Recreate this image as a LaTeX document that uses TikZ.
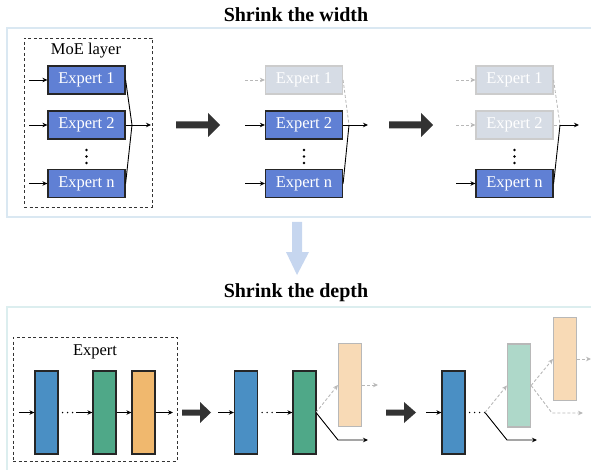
\documentclass[tikz,border=0pt]{standalone}
\usepackage{fontspec}
\setmainfont{Liberation Serif}
\usetikzlibrary{arrows.meta}
\definecolor{expblue}{HTML}{6080D4}
\definecolor{expgray}{HTML}{D6DCE5}
\definecolor{grayline}{HTML}{B8B8B8}
\definecolor{blk}{HTML}{4A8FC4}
\definecolor{grn}{HTML}{4FA888}
\definecolor{org}{HTML}{F0B86E}
\definecolor{lgrn}{HTML}{AED8C9}
\definecolor{lorg}{HTML}{F8DAB6}
\definecolor{panelA}{HTML}{DAE8F2}
\definecolor{panelB}{HTML}{DCEEEF}
\definecolor{bigarr}{HTML}{333333}
\definecolor{downarr}{HTML}{C6D6EF}
\begin{document}
\begin{tikzpicture}[x=1pt,y=-1pt,
  txt/.style={font=\fontsize{16.5}{19}\selectfont},
  title/.style={font=\fontsize{20}{24}\selectfont\bfseries},
  expon/.style={draw=black!85,line width=1.2pt,fill=expblue,text=white,minimum width=77pt,minimum height=28pt,inner sep=0pt,font=\fontsize{16.5}{19}\selectfont},
  expoff/.style={draw=black!20,line width=1.2pt,fill=expgray,text=white,minimum width=77pt,minimum height=28pt,inner sep=0pt,font=\fontsize{16.5}{19}\selectfont},
  layer/.style={draw=black!85,line width=1.2pt,minimum width=23pt,minimum height=83pt,inner sep=0pt},
  layeroff/.style={draw=grayline,line width=1.2pt,minimum width=23pt,minimum height=83pt,inner sep=0pt},
  arr/.style={line width=0.9pt,-{Stealth[length=5pt,width=4.5pt]}},
  garr/.style={line width=0.9pt,draw=grayline,dashed,dash pattern=on 3pt off 2pt,-{Stealth[length=5pt,width=4.5pt]}},
  gline/.style={line width=0.8pt,draw=grayline,dashed,dash pattern=on 3pt off 2pt},
  sline/.style={line width=0.9pt},
  dotline/.style={line width=1.7pt,dash pattern=on 0pt off 5pt,line cap=round},
  dashbox/.style={draw=black!80,line width=0.9pt,dash pattern=on 3pt off 2.5pt},
  vdot/.style={circle,fill=black,inner sep=0pt,minimum size=2.6pt},
]
\useasboundingbox (0,0) rectangle (591,470);
\clip (0,0) rectangle (591,470);

% panels
\draw[panelA,line width=2pt] (7,28) rectangle (620,217);
\draw[panelB,line width=2pt] (7,307) rectangle (620,500);

% titles
\node[title] (t1) at (296,15) {Shrink the width};
\node[title] (t2) at (296,293) {Shrink the depth};

% down arrow
\fill[downarr] (292,222) -- (302,222) -- (302,252) -- (309,252) -- (297,275) -- (286,252) -- (292,252) -- cycle;

% ===== top: stage 1
\node[dashbox,minimum width=128pt,minimum height=169pt] (moe) at (88,122.5) {};
\node[txt] (moel) at (86,51) {MoE layer};
\node[expon] (a1) at (86.5,80) {Expert 1};
\node[expon] (a2) at (86.5,125) {Expert 2};
\node[expon] (an) at (86.5,183.5) {Expert n};
\foreach \yy [count=\k] in {150,156.5,163} \node[vdot] (ad\k) at (86.5,\yy) {};
\coordinate (ai1) at (29,80);
\coordinate (ai2) at (29,125);
\coordinate (ain) at (29,183.5);
\draw[arr] (ai1) -- (a1);
\draw[arr] (ai2) -- (a2);
\draw[arr] (ain) -- (an);
\coordinate (aj) at (132,125);
\coordinate (ao) at (151,125);
\draw[sline] (a1.east) -- (aj) -- (an.east);
\draw[arr] (a2.east) -- (ao);

% big arrow 1
\fill[bigarr] (176,121.5) -- (208,121.5) -- (208,113) -- (220,125) -- (208,137) -- (208,128.5) -- (176,128.5) -- cycle;

% ===== top: stage 2
\node[expoff] (b1) at (304,80) {Expert 1};
\node[expon] (b2) at (304,125) {Expert 2};
\node[expon] (bn) at (304,183.5) {Expert n};
\foreach \yy [count=\k] in {150,156.5,163} \node[vdot] (bd\k) at (304,\yy) {};
\coordinate (bi1) at (245,80);
\coordinate (bi2) at (245,125);
\coordinate (bin) at (245,183.5);
\draw[garr] (bi1) -- (b1);
\draw[arr] (bi2) -- (b2);
\draw[arr] (bin) -- (bn);
\coordinate (bj) at (349,125);
\coordinate (bo) at (368,125);
\draw[gline] (b1.east) -- (bj);
\draw[sline] (bn.east) -- (bj);
\draw[arr] (b2.east) -- (bo);

% big arrow 2
\fill[bigarr] (389,121.5) -- (421,121.5) -- (421,113) -- (433,125) -- (421,137) -- (421,128.5) -- (389,128.5) -- cycle;

% ===== top: stage 3
\node[expoff] (c1) at (514.5,80) {Expert 1};
\node[expoff] (c2) at (514.5,125) {Expert 2};
\node[expon] (cn) at (514.5,183.5) {Expert n};
\foreach \yy [count=\k] in {150,156.5,163} \node[vdot] (cd\k) at (514.5,\yy) {};
\coordinate (ci1) at (456,80);
\coordinate (ci2) at (456,125);
\coordinate (cin) at (456,183.5);
\draw[garr] (ci1) -- (c1);
\draw[garr] (ci2) -- (c2);
\draw[arr] (cin) -- (cn);
\coordinate (cj) at (560,125);
\coordinate (co) at (579,125);
\draw[gline] (c1.east) -- (cj);
\draw[gline] (c2.east) -- (cj);
\draw[sline] (cn.east) -- (cj);
\draw[arr] (cj) -- (co);

% ===== bottom: stage 1
\node[dashbox,minimum width=164pt,minimum height=124pt] (ebox) at (95,399) {};
\node[txt] (el) at (95,352) {Expert};
\node[layer,fill=blk] (d1) at (46.5,412.5) {};
\node[layer,fill=grn] (d2) at (104.5,412.5) {};
\node[layer,fill=org] (d3) at (143.5,412.5) {};
\coordinate (di) at (19,412.5);
\coordinate (dm) at (76,412.5);
\coordinate (do) at (173,412.5);
\draw[arr] (di) -- (d1);
\draw[dotline] (d1.east) ++(4,0) -- (dm);
\draw[arr] (dm) -- (d2);
\draw[arr] (d2) -- (d3);
\draw[arr] (d3) -- (do);

% big arrow 3
\fill[bigarr] (182,409.5) -- (200,409.5) -- (200,402) -- (211,412.5) -- (200,423) -- (200,415.5) -- (182,415.5) -- cycle;

% ===== bottom: stage 2
\node[layer,fill=blk] (e1) at (246,412.5) {};
\node[layer,fill=grn] (e2) at (304.5,412.5) {};
\node[layeroff,fill=lorg] (e3) at (350,385) {};
\coordinate (ei) at (218,412.5);
\coordinate (em) at (276,412.5);
\coordinate (ej) at (316,412.5);
\coordinate (ek) at (338,440);
\coordinate (eo) at (368,440);
\coordinate (eg) at (378,385);
\draw[arr] (ei) -- (e1);
\draw[dotline] (e1.east) ++(4,0) -- (em);
\draw[arr] (em) -- (e2);
\draw[garr] (ej) -- (e3.west);
\draw[garr] (e3.east) -- (eg);
\draw[sline,-{Stealth[length=5pt,width=4.5pt]}] (ej) -- (ek) -- (eo);

% big arrow 4
\fill[bigarr] (386,409.5) -- (404,409.5) -- (404,402) -- (416,412.5) -- (404,423) -- (404,415.5) -- (386,415.5) -- cycle;

% ===== bottom: stage 3
\node[layer,fill=blk] (f1) at (453.5,412.5) {};
\node[layeroff,fill=lgrn] (f2) at (519,385.5) {};
\node[layeroff,fill=lorg] (f3) at (565,359) {};
\coordinate (fi) at (426,412.5);
\coordinate (fj) at (485,412.5);
\coordinate (fk) at (507,440);
\coordinate (fo) at (537,440);
\coordinate (fl) at (552,413);
\coordinate (fp) at (583,413);
\coordinate (fq) at (591,359);
\draw[arr] (fi) -- (f1);
\draw[dotline] (f1.east) ++(4,0) -- (fj);
\draw[sline,-{Stealth[length=5pt,width=4.5pt]}] (fj) -- (fk) -- (fo);
\draw[garr] (fj) -- (f2.west);
\draw[garr] (f2.east) -- (f3.west);
\draw[garr] (f2.east) -- (fl) -- (fp);
\draw[garr] (f3.east) -- (fq);
\end{tikzpicture}
\end{document}
